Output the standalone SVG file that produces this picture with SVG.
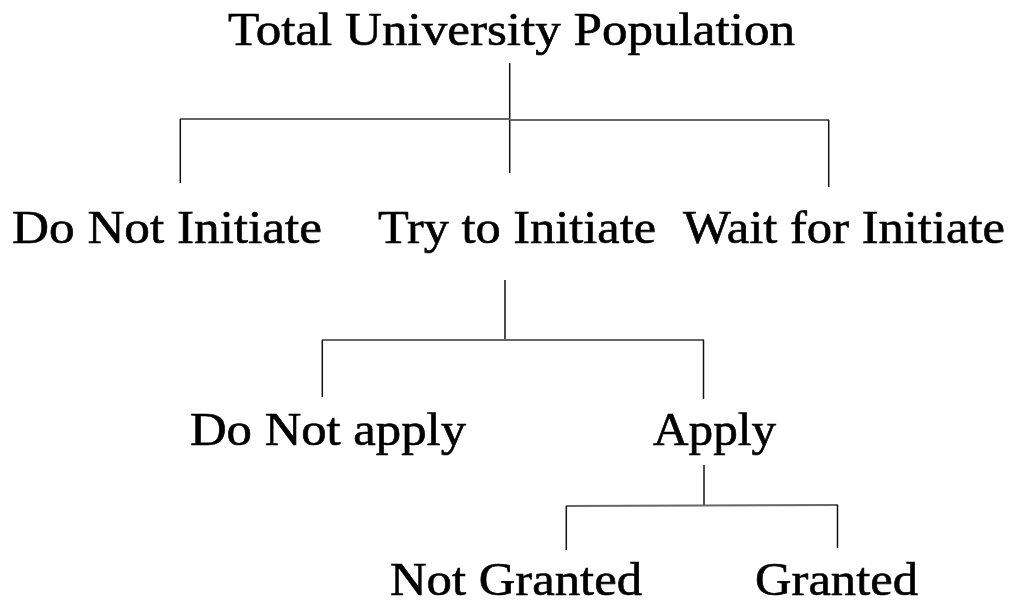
<svg xmlns="http://www.w3.org/2000/svg" width="1015" height="607" viewBox="0 0 1015 607">
<style>
text{font-family:"Liberation Serif","Times New Roman",serif;font-size:47px;fill:#000;stroke:#000;stroke-width:0.6}
.v{stroke:#111;stroke-width:1.5;fill:none}
.h{stroke:#666;stroke-width:2;fill:none}
</style>
<rect width="1015" height="607" fill="#fff"/>
<g id="connectors">
<line class="v" x1="509.7" y1="63" x2="509.7" y2="173"/>
<line class="h" x1="180" y1="119" x2="510" y2="119"/>
<line class="h" x1="510" y1="120" x2="829" y2="120"/>
<line class="v" x1="180.3" y1="119" x2="180.3" y2="183"/>
<line class="v" x1="828.7" y1="120" x2="828.7" y2="187"/>
<line class="v" x1="505" y1="280" x2="505" y2="340"/>
<line class="h" x1="322" y1="340" x2="704" y2="340"/>
<line class="v" x1="322.3" y1="340" x2="322.3" y2="397"/>
<line class="v" x1="703.5" y1="340" x2="703.5" y2="399"/>
<line class="v" x1="704" y1="465" x2="704" y2="506"/>
<line class="h" x1="566" y1="506" x2="838" y2="505"/>
<line class="v" x1="566.3" y1="506" x2="566.3" y2="550"/>
<line class="v" x1="837.5" y1="505" x2="837.5" y2="548"/>
</g>
<g id="total"><text x="228" y="45" textLength="567" lengthAdjust="spacingAndGlyphs">Total University Population</text></g>
<g id="do-not-initiate"><text x="12" y="243" textLength="310" lengthAdjust="spacingAndGlyphs">Do Not Initiate</text></g>
<g id="try-to-initiate"><text x="378" y="243" textLength="278" lengthAdjust="spacingAndGlyphs">Try to Initiate</text></g>
<g id="wait-for-initiate"><text x="683" y="243" textLength="322" lengthAdjust="spacingAndGlyphs">Wait for Initiate</text></g>
<g id="do-not-apply"><text x="190" y="445" textLength="276" lengthAdjust="spacingAndGlyphs">Do Not apply</text></g>
<g id="apply"><text x="653" y="445" textLength="123" lengthAdjust="spacingAndGlyphs">Apply</text></g>
<g id="not-granted"><text x="390" y="595" textLength="252" lengthAdjust="spacingAndGlyphs">Not Granted</text></g>
<g id="granted"><text x="755" y="595" textLength="163" lengthAdjust="spacingAndGlyphs">Granted</text></g>
</svg>
